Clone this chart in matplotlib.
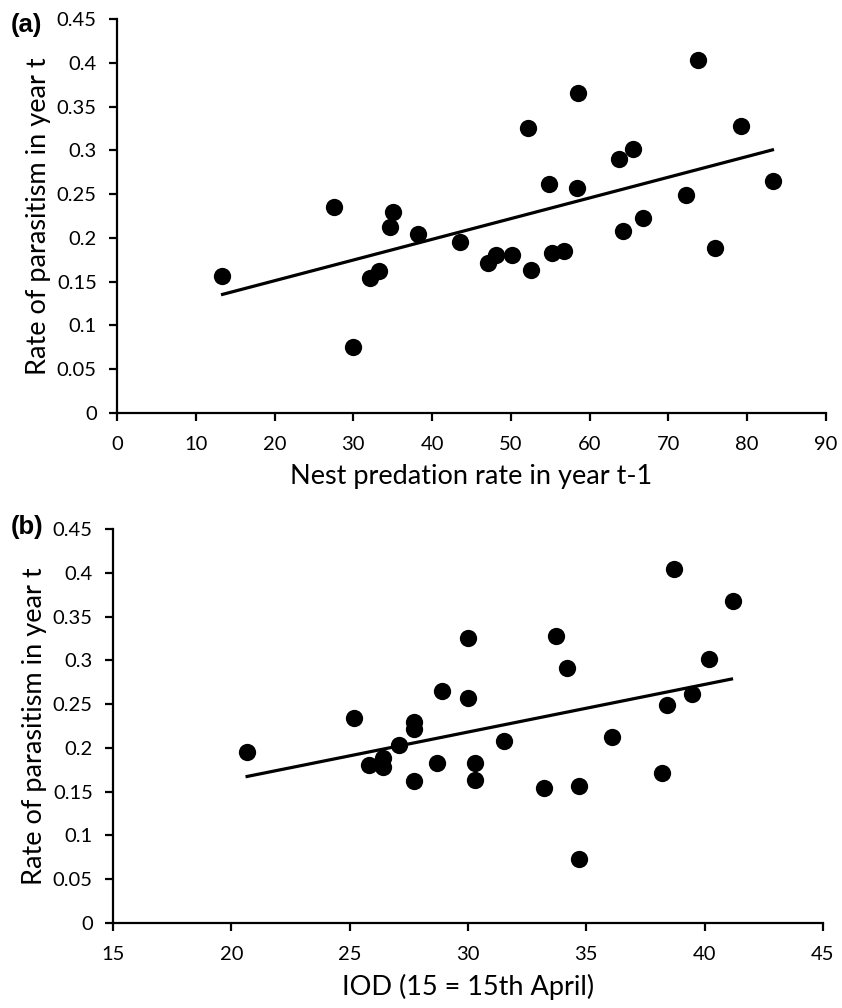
import matplotlib
matplotlib.use("Agg")
import matplotlib.pyplot as plt
import numpy as np

plt.rcParams['font.family'] = ['Lato', 'DejaVu Sans']

# Panel (a): nest predation rate in year t-1 vs parasitism
pred_x = [13.3, 27.6, 30.0, 32.1, 33.3, 34.7, 35.0, 38.2, 43.5, 47.1, 48.1, 50.1,
          52.2, 52.5, 54.9, 55.2, 56.7, 58.4, 58.5, 63.7, 64.2, 65.5, 66.8, 72.2,
          73.8, 75.9, 79.2, 83.3]
pred_y = [0.157, 0.235, 0.075, 0.154, 0.162, 0.212, 0.229, 0.204, 0.195, 0.171, 0.180, 0.180,
          0.325, 0.163, 0.261, 0.183, 0.185, 0.257, 0.366, 0.290, 0.208, 0.301, 0.223, 0.249,
          0.403, 0.189, 0.328, 0.265]
pred_fit_x = [13.2, 83.4]
pred_fit_y = [0.135, 0.301]

# Panel (b): IOD vs parasitism
iod_x = [20.65, 25.2, 25.8, 26.4, 26.4, 27.1, 27.7, 27.7, 27.7, 28.7, 28.9, 30.0,
         30.0, 30.3, 30.3, 31.5, 33.2, 33.7, 34.2, 34.7, 34.7, 36.1, 38.2, 38.4,
         38.7, 39.45, 40.2, 41.2]
iod_y = [0.195, 0.234, 0.180, 0.188, 0.178, 0.203, 0.230, 0.222, 0.162, 0.183, 0.265, 0.257,
         0.326, 0.183, 0.163, 0.208, 0.154, 0.328, 0.291, 0.156, 0.073, 0.212, 0.171, 0.249,
         0.404, 0.261, 0.302, 0.368]
iod_fit_x = [20.6, 41.2]
iod_fit_y = [0.167, 0.279]

y_ticks = [0, 0.05, 0.1, 0.15, 0.2, 0.25, 0.3, 0.35, 0.4, 0.45]
y_tick_labels = ['0', '0.05', '0.1', '0.15', '0.2', '0.25', '0.3', '0.35', '0.4', '0.45']
a_x_ticks = [0, 10, 20, 30, 40, 50, 60, 70, 80, 90]
b_x_ticks = [15, 20, 25, 30, 35, 40, 45]

fig = plt.figure(figsize=(8.42, 10.08), dpi=100)
W, H = 842, 1008

def make_ax(left, right, top, bottom):
    return fig.add_axes([left / W, 1 - bottom / H, (right - left) / W, (bottom - top) / H])

ax_a = make_ax(117, 826, 19, 413)
ax_b = make_ax(113, 823, 529, 923)

def style(ax, xs, ys, fx, fy, xticks, xlabel):
    ax.scatter(xs, ys, s=155, color='black', zorder=3, linewidths=0)
    ax.plot(fx, fy, color='black', lw=2.3, zorder=2, solid_capstyle='butt')
    ax.set_xlim(xticks[0], xticks[-1])
    ax.set_ylim(0, 0.45)
    ax.set_xticks(xticks)
    ax.set_xticklabels([str(t) for t in xticks])
    ax.set_yticks(y_ticks)
    ax.set_yticklabels(y_tick_labels)
    for s in ['top', 'right']:
        ax.spines[s].set_visible(False)
    for s in ['left', 'bottom']:
        ax.spines[s].set_linewidth(1.6)
        ax.spines[s].set_color('black')
    ax.tick_params(direction='out', length=5.5, width=1.6, labelsize=14.5, colors='black')
    ax.tick_params(axis='x', pad=11)
    ax.tick_params(axis='y', pad=9)
    ax.set_xlabel(xlabel, fontsize=19.5, labelpad=8)
    ax.set_ylabel('Rate of parasitism in year t', fontsize=19.5, labelpad=4)
    ax.set_facecolor('white')

style(ax_a, pred_x, pred_y, pred_fit_x, pred_fit_y, a_x_ticks, 'Nest predation rate in year t-1')
style(ax_b, iod_x, iod_y, iod_fit_x, iod_fit_y, b_x_ticks, 'IOD (15 = 15th April)')

fig.text(11 / W, 1 - 25 / H, '(a)', fontsize=18.5, fontweight='bold', va='center', ha='left',
         family=['Liberation Sans', 'DejaVu Sans'])
fig.text(11 / W, 1 - 527 / H, '(b)', fontsize=18.5, fontweight='bold', va='center', ha='left',
         family=['Liberation Sans', 'DejaVu Sans'])

fig.savefig('out.png', dpi=100, facecolor='white')
